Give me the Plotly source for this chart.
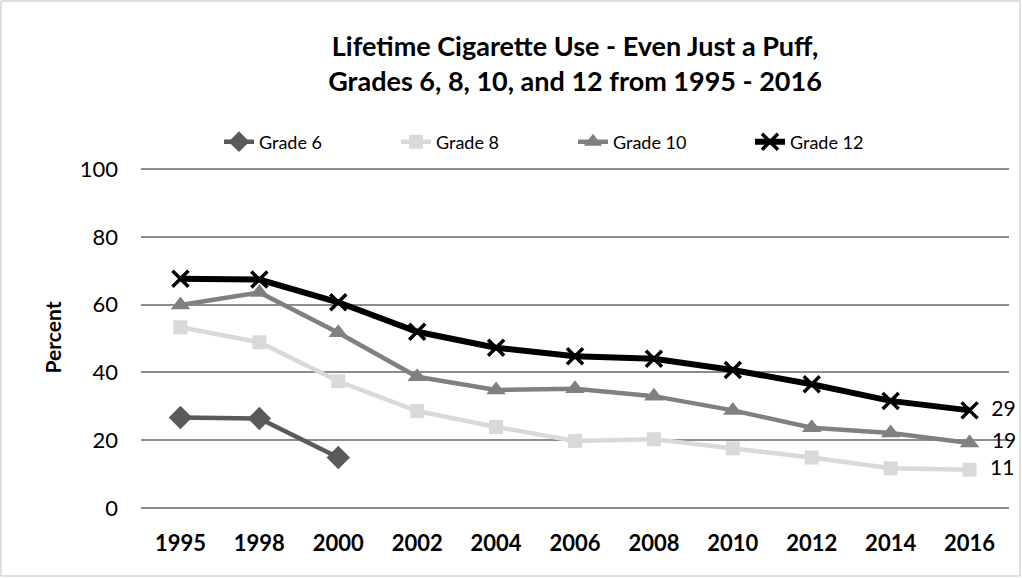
import plotly.graph_objects as go

years = ["1995", "1998", "2000", "2002", "2004", "2006", "2008", "2010", "2012", "2014", "2016"]
grade6 = [26.7, 26.4, 14.9, None, None, None, None, None, None, None, None]
grade8 = [53.3, 48.9, 37.4, 28.6, 23.9, 19.8, 20.3, 17.6, 14.9, 11.7, 11.3]
grade10 = [59.9, 63.6, 51.7, 38.7, 34.8, 35.2, 33.0, 28.8, 23.7, 22.1, 19.2]
grade12 = [67.6, 67.4, 60.7, 52.0, 47.3, 44.8, 44.0, 40.7, 36.5, 31.6, 28.8]

FONT = "Lato"
W, H = 1022, 578
ML, MR, MT, MB = 141, 13, 167, 70

def end_label(vals, show):
    # only the last point of a series gets a value label
    if not show:
        return [""] * len(vals)
    return [""] * (len(vals) - 1) + ["\u00a0\u00a0" + str(round(vals[-1]))]

series = [
    ("Grade 6", grade6, "#5a5a5a", "diamond", 18, 4.5, False),
    ("Grade 8", grade8, "#d9d9d9", "square", 14, 4.5, True),
    ("Grade 10", grade10, "#808080", "triangle-up", 17, 4.5, True),
    ("Grade 12", grade12, "#000000", "x-thin", 16, 6, True),
]

fig = go.Figure()
for name, vals, color, sym, size, lw, show in series:
    marker = dict(symbol=sym, size=size, color=color)
    if sym == "x-thin":
        marker["line"] = dict(color=color, width=3.5)
    fig.add_trace(go.Scatter(
        x=years, y=vals, name=name, mode="lines+markers+text",
        line=dict(color=color, width=lw),
        marker=marker,
        text=end_label(vals, show),
        textposition="middle right",
        textfont=dict(family=FONT, size=21, color="#000000"),
        cliponaxis=False,
    ))

# thin border round the whole chart
pw = W - ML - MR
ph = H - MT - MB
fig.add_shape(type="rect", xref="paper", yref="paper",
              x0=(1 - ML) / pw, x1=(W - 2 - ML) / pw,
              y0=-(H - 2 - MT - ph) / ph, y1=1 + (MT - 1) / ph,
              line=dict(color="#bfbfbf", width=1))

fig.update_layout(
    width=W, height=H,
    margin=dict(l=ML, r=MR, t=MT, b=MB, autoexpand=False),
    paper_bgcolor="white", plot_bgcolor="white",
    font=dict(family=FONT, color="#000000"),
    title=dict(
        text="<b>Lifetime Cigarette Use - Even Just a Puff,<br>Grades 6, 8, 10, and 12 from 1995 - 2016</b>",
        x=0.5, xref="paper", xanchor="center", y=1 - 56 / H, yanchor="top",
        font=dict(family=FONT, size=27, color="#000000"),
    ),
    legend=dict(
        orientation="h", x=(219 - ML) / pw, xanchor="left",
        y=1 + (MT - 142) / ph, yanchor="middle",
        font=dict(family=FONT, size=18, color="#000000"),
        entrywidth=132, entrywidthmode="pixels",
        bgcolor="rgba(0,0,0,0)",
    ),
    xaxis=dict(
        type="category", range=[-0.5, 10.5],
        showgrid=False, showline=False, ticks="", automargin=False,
        tickfont=dict(family=FONT, size=22, color="#000000"),
        tickprefix="<b>", ticksuffix="</b>",
        ticklabelstandoff=20,
    ),
    yaxis=dict(
        range=[0, 100.6], tickvals=[0, 20, 40, 60, 80, 100],
        showgrid=True, gridcolor="#8c8c8c", gridwidth=1.5,
        zeroline=True, zerolinecolor="#8c8c8c", zerolinewidth=1.5,
        tickfont=dict(family=FONT, size=22, color="#000000"),
        ticks="", automargin=False,
        ticklabelstandoff=22,
        title=dict(text="<b>Percent</b>", font=dict(family=FONT, size=21, color="#000000"), standoff=12),
    ),
)

# drop the browser's default body margin so the chart sits at the window's corner
fig.write_html("out.html", config={"displayModeBar": False},
               post_script="document.body.style.margin='0';")
